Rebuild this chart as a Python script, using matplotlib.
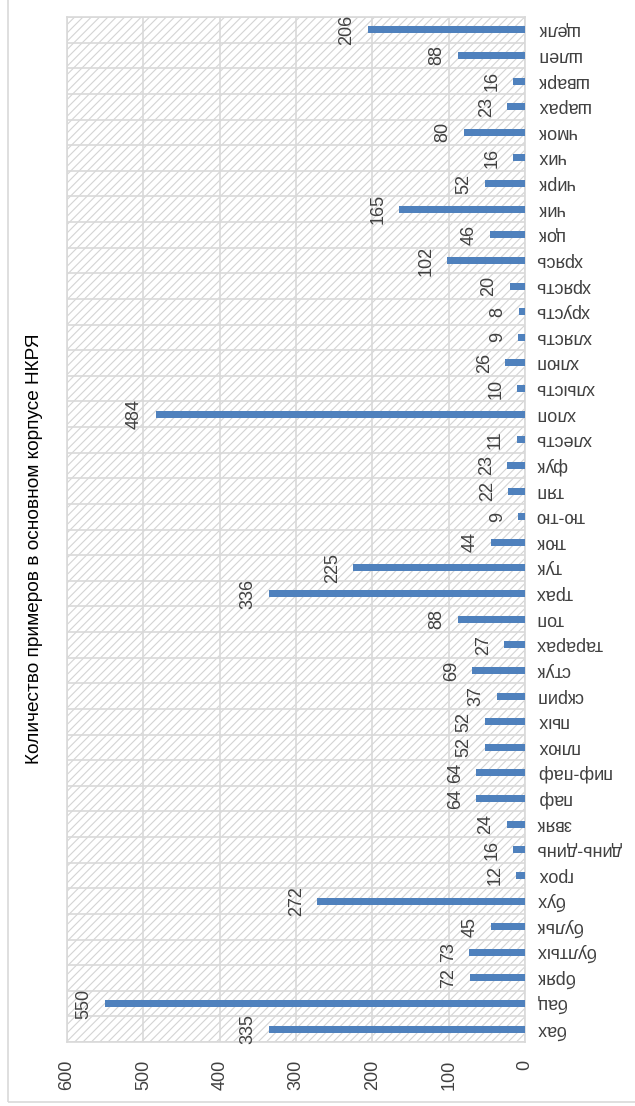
import matplotlib
matplotlib.use("Agg")
import matplotlib.pyplot as plt
from matplotlib.patches import Rectangle

# Sound-word counts in the main corpus of the Russian National Corpus
words = [
    "бах", "бац", "бряк", "бултых", "бульк", "бух", "грох", "динь-динь",
    "звяк", "паф", "пиф-паф", "плюх", "пых", "скрип", "стук", "тарарах",
    "топ", "трах", "тук", "тюк", "тю-тю", "тяп", "фук", "хлесть", "хлоп",
    "хлысть", "хлюп", "хлясть", "хрусть", "хрясть", "хрясь", "цок", "чик",
    "чирк", "чих", "чмок", "шарах", "шварк", "шлеп", "щелк",
]
counts = [
    335, 550, 72, 73, 45, 272, 12, 16,
    24, 64, 64, 52, 52, 37, 69, 27,
    88, 336, 225, 44, 9, 22, 23, 11, 484,
    10, 26, 9, 8, 20, 102, 46, 165,
    52, 16, 80, 23, 16, 88, 206,
]
value_ticks = [0, 100, 200, 300, 400, 500, 600]
axis_title = "Количество примеров в основном корпусе НКРЯ"

plt.rcParams["font.family"] = ["Liberation Sans", "DejaVu Sans"]
plt.rcParams["hatch.color"] = "#d4d4d4"
plt.rcParams["hatch.linewidth"] = 0.8

W, H = 635, 1106
fig = plt.figure(figsize=(W / 100, H / 100), dpi=100)

# chart-area border (top and right edges run past the canvas)
y0 = 1 - 1102 / H
fig.patches.append(Rectangle((8 / W, y0), 2.0, 2.0,
                             transform=fig.transFigure, fill=False,
                             edgecolor="#d9d9d9", linewidth=1.2, zorder=0))

left, right, top, bottom = 67, 525, 17, 1042
ax = fig.add_axes([left / W, 1 - bottom / H, (right - left) / W, (bottom - top) / H])

n = len(words)
pos = list(range(n))

# hatched plot background
ax.add_patch(Rectangle((0, 0), 1, 1, transform=ax.transAxes, facecolor="white",
                       edgecolor="#d4d4d4", hatch="////", linewidth=0, zorder=0))

ax.set_xlim(600, 0)
ax.set_ylim(-0.5, n - 0.5)

for v in value_ticks:
    ax.axvline(v, color="#d9d9d9", linewidth=1.2, zorder=1)
for i in range(n + 1):
    ax.axhline(i - 0.5, color="#d9d9d9", linewidth=1.2, zorder=1)

ax.barh(pos, counts, height=0.27, color="#4f81bd", zorder=3)

text_color = "#404040"
for p, c in zip(pos, counts):
    ax.annotate(str(c), xy=(c, p), xytext=(-9, 0), textcoords="offset points",
                rotation=90, ha="right", va="center", fontsize=13,
                color=text_color, zorder=4)

for spine in ax.spines.values():
    spine.set_color("#d9d9d9")
    spine.set_linewidth(1.2)

ax.set_xticks(value_ticks)
ax.set_xticklabels([str(v) for v in value_ticks], rotation=90, fontsize=13,
                   color=text_color, va="top")
ax.tick_params(axis="x", length=0, pad=13)

ax.yaxis.tick_right()
ax.set_yticks(pos)
ax.set_yticklabels(words, rotation=180, fontsize=13, color=text_color,
                   ha="left", va="center")
ax.tick_params(axis="y", length=0, pad=8)

fig.text(35 / W, 1 - 549 / H, axis_title, rotation=90, ha="center", va="center",
         fontsize=13.7, color="#000000")

fig.savefig("out.png", dpi=100)
